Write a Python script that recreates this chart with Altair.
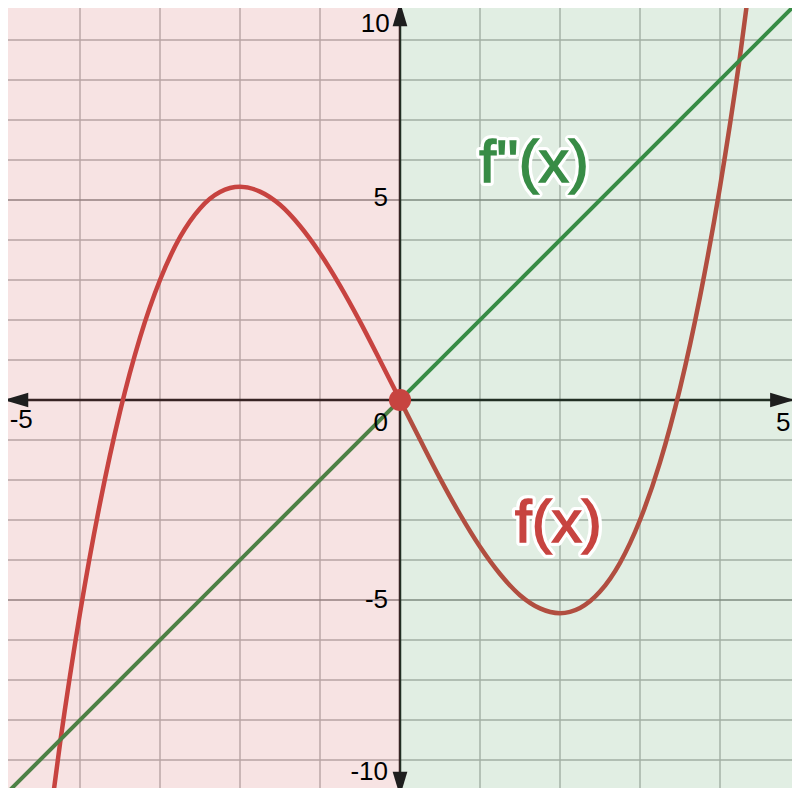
import altair as alt
import pandas as pd

# f(x)
x_vals = [-4.5, -4.25, -4.0, -3.75, -3.5, -3.25, -3.0, -2.75, -2.5, -2.25, -2.0,
          -1.75, -1.5, -1.25, -1.0, -0.75, -0.5, -0.25, 0.0,
          0.25, 0.5, 0.75, 1.0, 1.25, 1.5, 1.75, 2.0, 2.25, 2.5, 2.75, 3.0,
          3.25, 3.5, 3.75, 4.0, 4.25, 4.5]
f_vals = [-12.38, -8.59, -5.33, -2.58, -0.29, 1.56, 3.0, 4.07, 4.79, 5.2, 5.33,
          5.21, 4.88, 4.35, 3.67, 2.86, 1.96, 0.99, 0.0,
          -0.99, -1.96, -2.86, -3.67, -4.35, -4.88, -5.21, -5.33, -5.2, -4.79, -4.07, -3.0,
          -1.56, 0.29, 2.58, 5.33, 8.59, 12.38]

# f''(x) line end points
g_x = [-5, 5]
g_vals = [-10, 10]

grid_x = [-4, -3, -2, -1, 1, 2, 3, 4]
grid_y_minor = [-9, -8, -7, -6, -4, -3, -2, -1, 1, 2, 3, 4, 6, 7, 8, 9]
grid_y_major = [-5, 5]

RED = "#c74440"
GREEN = "#388c46"
FONT = "Liberation Sans"

xs = alt.Scale(domain=[-4.9, 4.9], nice=False, zero=False)
ys = alt.Scale(domain=[-9.7, 9.8], nice=False, zero=False)

def X(v):
    return alt.X(v, type="quantitative", scale=xs, axis=None)

def Y(v):
    return alt.Y(v, type="quantitative", scale=ys, axis=None)

layers = []

# grid
layers.append(alt.Chart(pd.DataFrame({"x": grid_x})).mark_rule(color="#b5b5b5", strokeWidth=1.4).encode(x=X("x:Q")))
layers.append(alt.Chart(pd.DataFrame({"y": grid_y_minor})).mark_rule(color="#b5b5b5", strokeWidth=1.4).encode(y=Y("y:Q")))
layers.append(alt.Chart(pd.DataFrame({"y": grid_y_major})).mark_rule(color="#8a8a8a", strokeWidth=1.6).encode(y=Y("y:Q")))

# axes
layers.append(alt.Chart(pd.DataFrame({"x": [0]})).mark_rule(color="#1e1e1e", strokeWidth=2.5).encode(x=X("x:Q")))
layers.append(alt.Chart(pd.DataFrame({"y": [0]})).mark_rule(color="#1e1e1e", strokeWidth=2.5).encode(y=Y("y:Q")))

# curves
fdf = pd.DataFrame({"x": x_vals, "y": f_vals})
layers.append(alt.Chart(fdf).mark_line(color=RED, strokeWidth=4.5, interpolate="monotone", clip=True).encode(x=X("x:Q"), y=Y("y:Q"), order="x:Q"))
gdf = pd.DataFrame({"x": g_x, "y": g_vals})
layers.append(alt.Chart(gdf).mark_line(color=GREEN, strokeWidth=4, clip=True).encode(x=X("x:Q"), y=Y("y:Q")))

# shading overlays
layers.append(alt.Chart(pd.DataFrame({"a": [-5], "b": [0], "c": [-10], "d": [10]})).mark_rect(color=RED, opacity=0.15, clip=True).encode(
    x=X("a:Q"), x2="b:Q", y=Y("c:Q"), y2="d:Q"))
layers.append(alt.Chart(pd.DataFrame({"a": [0], "b": [5], "c": [-10], "d": [10]})).mark_rect(color=GREEN, opacity=0.15, clip=True).encode(
    x=X("a:Q"), x2="b:Q", y=Y("c:Q"), y2="d:Q"))

# arrow heads
ARROW = "M0,-1L0.6,1L-0.6,1Z"
for ax, ay, ang in [(0, 9.65, 0), (0, -9.6, 180), (-4.8, 0, 270), (4.78, 0, 90)]:
    layers.append(alt.Chart().mark_point(shape=ARROW, filled=True, size=600, color="#1e1e1e", opacity=1, angle=ang).encode(
        x=alt.datum(ax, scale=xs, axis=None), y=alt.datum(ay, scale=ys, axis=None)))

# origin dot
layers.append(alt.Chart().mark_point(shape="circle", filled=True, size=490, color=RED, opacity=1).encode(
    x=alt.datum(0, scale=xs, axis=None), y=alt.datum(0, scale=ys, axis=None)))

# tick labels
tick_labels = ["-5", "5", "0", "10", "5", "-5", "-10"]
tick_pos = [(-4.735, -0.5, "center"), (4.79, -0.57, "center"), (-0.15, -0.58, "right"),
            (-0.13, 9.4, "right"), (-0.15, 5.05, "right"), (-0.15, -5.0, "right"), (-0.15, -9.3, "right")]
for t, (tx, ty, al) in zip(tick_labels, tick_pos):
    layers.append(alt.Chart().mark_text(text=t, font=FONT, fontSize=26, color="#000000", align=al, baseline="middle").encode(
        x=alt.datum(tx, scale=xs, axis=None), y=alt.datum(ty, scale=ys, axis=None)))

# function labels
fn_labels = ["f''(x)", "f(x)"]
fn_pos = [(1.675, 5.9), (1.98, -3.1)]
fn_colors = [GREEN, RED]
for t, (tx, ty), c in zip(fn_labels, fn_pos, fn_colors):
    layers.append(alt.Chart().mark_text(text=t, font=FONT, fontSize=60, color="white", stroke="white", strokeWidth=8,
                                        strokeJoin="round", align="center", baseline="middle").encode(
        x=alt.datum(tx, scale=xs, axis=None), y=alt.datum(ty, scale=ys, axis=None)))
    layers.append(alt.Chart().mark_text(text=t, font=FONT, fontSize=60, color=c, stroke=c, strokeWidth=1.6,
                                        align="center", baseline="middle").encode(
        x=alt.datum(tx, scale=xs, axis=None), y=alt.datum(ty, scale=ys, axis=None)))

chart = alt.layer(*layers).properties(
    width=784, height=780, padding=0, autosize="none", background="white"
).configure_view(stroke=None)

chart.save("out.html", embed_options={"renderer": "svg", "actions": False})
